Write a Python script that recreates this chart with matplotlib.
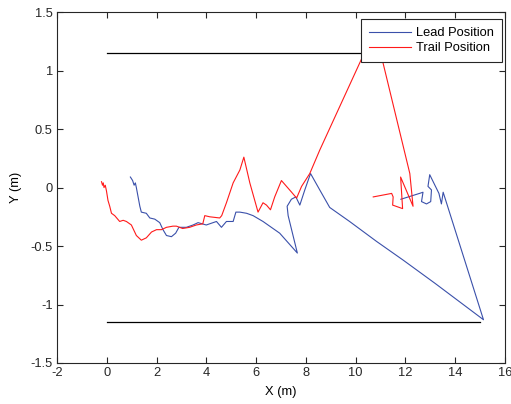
import matplotlib
matplotlib.use("Agg")
import matplotlib.pyplot as plt

plt.rcParams["font.family"] = ["Liberation Sans", "DejaVu Sans"]
plt.rcParams["axes.unicode_minus"] = False

# Trail (red) path, metres
trail_x = [-0.21, -0.17, -0.14, -0.11, -0.06, -0.01, 0.05, 0.12, 0.19, 0.32, 0.52, 0.66, 0.79,
           0.99, 1.19, 1.39, 1.59, 1.80, 2.00, 2.20, 2.40, 2.66, 2.80, 3.05, 3.33, 3.60,
           3.86, 3.94, 4.14, 4.54, 4.62, 4.81, 5.08, 5.35, 5.51, 5.75, 6.08, 6.28, 6.42,
           6.58, 6.75, 7.02, 7.43, 7.63, 7.83, 8.16, 8.56, 10.78, 12.18, 12.31, 11.81,
           11.89, 11.49, 11.51, 11.45, 10.71]
trail_y = [0.05, 0.02, 0.04, 0.00, 0.02, -0.03, -0.11, -0.16, -0.22, -0.24, -0.29, -0.28, -0.29,
           -0.32, -0.41, -0.45, -0.43, -0.38, -0.36, -0.36, -0.34, -0.33, -0.33, -0.35, -0.34,
           -0.32, -0.31, -0.24, -0.25, -0.26, -0.24, -0.13, 0.04, 0.15, 0.26, 0.04, -0.21,
           -0.13, -0.15, -0.19, -0.08, 0.06, -0.04, -0.09, 0.01, 0.12, 0.32, 1.35, 0.12,
           -0.16, 0.09, -0.18, -0.15, -0.08, -0.05, -0.08]

# Lead (blue) path, metres
lead_x = [0.95, 1.04, 1.10, 1.15, 1.19, 1.26, 1.33, 1.39, 1.59, 1.73, 1.93, 2.13, 2.26, 2.40,
          2.60, 2.77, 2.90, 3.20, 3.47, 3.67, 4.00, 4.41, 4.61, 4.81, 5.08, 5.19, 5.35,
          5.62, 5.88, 6.28, 6.95, 7.66, 7.29, 7.25, 7.42, 7.60, 7.76, 7.96, 8.19, 8.56,
          8.96, 9.76, 10.84, 11.91, 13.20, 15.14, 13.52, 13.45, 13.35, 12.98, 12.91,
          13.05, 13.02, 12.85, 12.65, 12.71, 12.57, 11.82]
lead_y = [0.09, 0.06, 0.02, 0.04, 0.00, -0.08, -0.16, -0.21, -0.22, -0.26, -0.27, -0.30, -0.36,
          -0.41, -0.42, -0.39, -0.34, -0.34, -0.32, -0.30, -0.32, -0.29, -0.34, -0.29,
          -0.29, -0.21, -0.21, -0.22, -0.24, -0.29, -0.39, -0.56, -0.24, -0.16, -0.10,
          -0.08, -0.15, -0.02, 0.12, -0.02, -0.17, -0.29, -0.46, -0.62, -0.82, -1.13,
          -0.04, -0.14, -0.05, 0.11, 0.01, -0.02, -0.12, -0.14, -0.12, -0.04, -0.05, -0.10]

# lane boundaries
bound_x = [0, 15.0]
bound_top = 1.15
bound_bot = -1.15

fs = 9.3

fig = plt.figure(figsize=(5.11, 4.04), dpi=100)
ax = fig.add_axes([0.1115, 0.1015, 0.8765, 0.8685])

ax.plot(bound_x, [bound_top, bound_top], color="black", lw=0.9)
ax.plot(bound_x, [bound_bot, bound_bot], color="black", lw=0.9)
l1, = ax.plot(lead_x, lead_y, color="#3a50aa", lw=0.8, label="Lead Position")
l2, = ax.plot(trail_x, trail_y, color="#ff1a1a", lw=0.8, label="Trail Position")

ax.set_xlim(-2, 16)
ax.set_ylim(-1.5, 1.5)
ax.set_xticks(range(-2, 17, 2))
ax.set_yticks([-1.5, -1, -0.5, 0, 0.5, 1, 1.5])
ax.set_yticklabels(["-1.5", "-1", "-0.5", "0", "0.5", "1", "1.5"])
ax.tick_params(direction="in", top=True, right=True, length=4, labelsize=fs,
               colors="#262626", width=0.8, pad=3)
for s in ax.spines.values():
    s.set_color("#262626")
    s.set_linewidth(0.8)
ax.set_xlabel("X (m)", fontsize=fs, labelpad=5)
ax.set_ylabel("Y (m)", fontsize=fs, labelpad=6)

leg = ax.legend(handles=[l1, l2], loc="upper right", bbox_to_anchor=(0.9926, 0.979),
                borderaxespad=0, fontsize=fs, handlelength=3.3,
                frameon=True, fancybox=False, borderpad=0.6, labelspacing=0.22,
                handletextpad=0.35)
leg.get_frame().set_edgecolor("#262626")
leg.get_frame().set_linewidth(0.8)
leg.get_frame().set_alpha(1)

fig.savefig("out.png", dpi=100)
